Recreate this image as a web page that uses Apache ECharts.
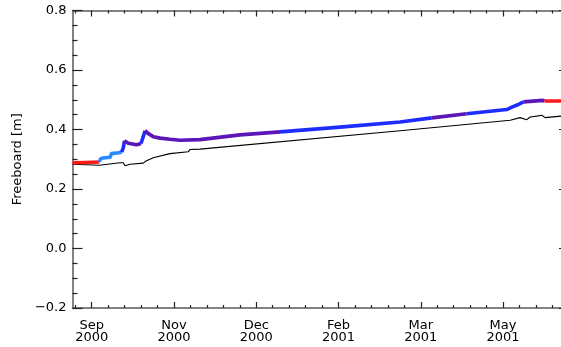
<!DOCTYPE html>
<html><head><meta charset="utf-8">
<script src="https://cdn.jsdelivr.net/npm/echarts@6/dist/echarts.min.js"></script>
<style>html,body{margin:0;padding:0;background:#fff}#c{width:561px;height:347px}</style>
</head><body><div id="c"></div>
<script>
// x values: days since 20 Sep 2000
const tickDays = [0, 45, 90, 135, 180, 225];
const tickLabels = ['Sep\n2000', 'Nov\n2000', 'Dec\n2000', 'Feb\n2001', 'Mar\n2001', 'May\n2001'];
const minorDays = [-9, 9, 18, 27, 36, 54, 63, 72, 81, 99, 108, 117, 126, 144, 153, 162, 171, 189, 198, 207, 216, 234, 243, 252];
const yTicks = [-0.2, 0.0, 0.2, 0.4, 0.6, 0.8];

// upper (coloured) freeboard curve
const colDays = [-10.5, -3.7, 4.2, 4.9, 6.3, 10.0, 10.9, 14.6, 16.4, 17.3, 17.9, 20.0, 24.6, 27.0, 27.9, 29.2, 29.5, 31.0, 33.7, 37.4, 42.8, 48.3, 59.2, 81.1, 103.0, 135.8, 168.7, 186.0, 205.1, 227.0, 229.8, 233.4, 236.1, 246.7, 247.0, 247.7, 257];
const colVals = [0.288, 0.289, 0.291, 0.302, 0.304, 0.307, 0.319, 0.322, 0.324, 0.339, 0.362, 0.354, 0.349, 0.353, 0.358, 0.396, 0.397, 0.386, 0.376, 0.371, 0.367, 0.364, 0.366, 0.382, 0.392, 0.408, 0.425, 0.439, 0.453, 0.467, 0.475, 0.484, 0.493, 0.498, 0.504, 0.496, 0.496];
// colour class starting at each point index
const segStart = [0, 2, 8, 10, 13, 15, 24, 27, 28, 32, 35];
const segClass = ['red', 'lightblue', 'blue', 'purple', 'blue', 'purple', 'blue', 'purple', 'blue', 'purple', 'red'];

// lower (black) curve
const blkDays = [-10.5, 4.2, 15.5, 17.3, 18.2, 21.0, 28.2, 29.7, 30.4, 33.7, 34.6, 42.8, 52.8, 53.8, 59.2, 168.7, 228.9, 234.3, 238.0, 239.8, 243.4, 246.2, 248.0, 257];
const blkVals = [0.283, 0.280, 0.288, 0.288, 0.278, 0.283, 0.287, 0.294, 0.293, 0.305, 0.308, 0.319, 0.325, 0.333, 0.334, 0.396, 0.431, 0.440, 0.433, 0.442, 0.445, 0.448, 0.440, 0.445];

const palette = { red: '#ff1a1a', lightblue: '#2a8aff', blue: '#1f2cff', purple: '#5a16b8' };
const FONT = 'DejaVu Sans';
const X_MIN = -10.5, X_MAX = 256.7;

const series = [];
series.push({
  type: 'line', xAxisIndex: 0, yAxisIndex: 0, symbol: 'none', z: 2,
  lineStyle: { color: '#000', width: 1.1 },
  data: blkDays.map((d, i) => [d, blkVals[i]])
});
for (let s = 0; s < segStart.length; s++) {
  const a = segStart[s];
  const b = s + 1 < segStart.length ? segStart[s + 1] : colDays.length - 1;
  const pts = [];
  for (let i = a; i <= b; i++) pts.push([colDays[i], colVals[i]]);
  series.push({
    type: 'line', xAxisIndex: 0, yAxisIndex: 0, symbol: 'none', z: 3,
    lineStyle: { color: palette[segClass[s]], width: 3.6, join: 'round' },
    data: pts
  });
}

const axisLineStyle = { color: '#5a5a5a', width: 1.5 };
function xAx(pos, vals, len, withLabels, showLine) {
  return {
    type: 'value', position: pos, min: X_MIN, max: X_MAX,
    axisLine: { show: showLine, onZero: false, lineStyle: axisLineStyle },
    axisTick: { show: true, inside: true, length: len, customValues: vals, lineStyle: { color: '#222', width: 1.2 } },
    axisLabel: withLabels ? {
      show: true, customValues: vals, margin: 11, color: '#000',
      fontFamily: FONT, fontSize: 13, lineHeight: 12.5,
      formatter: v => { const k = tickDays.findIndex(t => Math.abs(t - v) < 1e-6); return k >= 0 ? tickLabels[k] : ''; }
    } : { show: false },
    splitLine: { show: false }
  };
}
function yAx(pos, withLabels) {
  return {
    type: 'value', position: pos, min: yTicks[0], max: yTicks[yTicks.length - 1], interval: 0.2,
    name: withLabels ? 'Freeboard [m]' : '', nameLocation: 'middle', nameGap: 46,
    nameTextStyle: { fontFamily: FONT, fontSize: 13, color: '#000' },
    axisLine: { show: withLabels, onZero: false, lineStyle: axisLineStyle },
    axisTick: { show: true, inside: true, length: withLabels ? 10 : 2, lineStyle: { color: '#222', width: 1.2 } },
    minorTick: { show: withLabels, splitNumber: 4, length: 5, lineStyle: { color: '#222', width: 1.2 } },
    axisLabel: withLabels ? {
      show: true, margin: 6, color: '#000', fontFamily: FONT, fontSize: 13,
      formatter: v => (v < -1e-9 ? '\u2212' + Math.abs(v).toFixed(1) : Math.abs(v).toFixed(1))
    } : { show: false },
    splitLine: { show: false }
  };
}

const chart = echarts.init(document.getElementById('c'), null, { renderer: 'canvas' });
chart.setOption({
  animation: false,
  backgroundColor: '#fff',
  grid: { left: 72.5, right: 0, top: 10.5, bottom: 39, containLabel: false },
  xAxis: [
    xAx('bottom', tickDays, 6, true, true),
    xAx('bottom', minorDays, 3, false, false),
    xAx('top', tickDays, 6, false, true),
    xAx('top', minorDays, 3, false, false)
  ],
  yAxis: [yAx('left', true), yAx('right', false)],
  series: series
});
</script>
</body></html>
